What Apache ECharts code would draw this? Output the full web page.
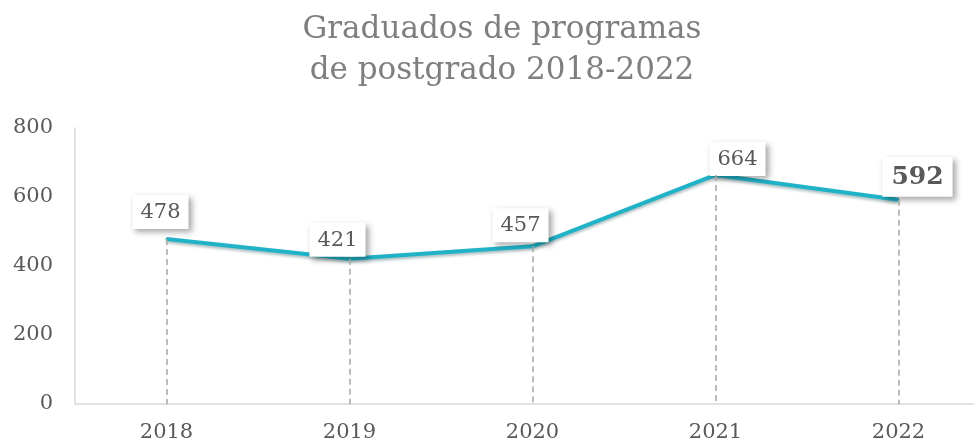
<!DOCTYPE html>
<html><head><meta charset="utf-8">
<script src="https://cdn.jsdelivr.net/npm/echarts@6/dist/echarts.min.js"></script>
<style>html,body{margin:0;padding:0;background:#fff}#c{width:974px;height:443px}</style>
</head><body><div id="c"></div>
<script>
const titleText = 'Graduados de programas\nde postgrado 2018-2022';
const years = ['2018', '2019', '2020', '2021', '2022'];
const graduates = [478, 421, 457, 664, 592];
const yTicks = [0, 200, 400, 600, 800];

const FONT = 'DejaVu Serif';
const labelOffsets = [[-6, -9], [-12, -1], [-12, -3], [22, 2], [19, -2]];

const chart = echarts.init(document.getElementById('c'));
const dataItems = graduates.map((v, i) => {
  const last = i === graduates.length - 1;
  return {
    value: v,
    label: {
      offset: labelOffsets[i],
      fontWeight: last ? 'bold' : 'normal',
      fontSize: last ? 25 : 21,
      padding: last ? [8, 9, 7, 9] : [7, 8, 6, 8]
    }
  };
});
chart.setOption({
  animation: false,
  title: {
    text: titleText, left: 497, textAlign: 'center', top: 4,
    textStyle: { fontFamily: FONT, fontWeight: 'normal', fontSize: 31, color: '#7f7f7f', lineHeight: 41 }
  },
  grid: { left: 75, top: 128, right: -16, bottom: 39, containLabel: false, outerBoundsMode: 'none' },
  xAxis: {
    type: 'category', data: years, boundaryGap: true,
    axisLine: { lineStyle: { color: '#d9d9d9', width: 1.5 } },
    axisTick: { show: false },
    axisLabel: { fontFamily: FONT, fontSize: 21, color: '#595959', margin: 18 }
  },
  yAxis: {
    type: 'value', min: yTicks[0], max: yTicks[yTicks.length - 1], interval: 200,
    axisLine: { show: true, lineStyle: { color: '#d9d9d9', width: 1.5 } },
    axisTick: { show: false },
    splitLine: { show: false },
    axisLabel: { fontFamily: FONT, fontSize: 21, color: '#595959', margin: 22 }
  },
  series: [{
    type: 'line', data: dataItems,
    symbol: 'circle', symbolSize: 2, showSymbol: true,
    itemStyle: { color: '#20b3c8', opacity: 1 },
    lineStyle: { color: '#20b3c8', width: 4, shadowColor: 'rgba(0,60,70,0.35)', shadowBlur: 3, shadowOffsetY: 2 },
    label: {
      show: true, position: 'top', distance: 0,
      fontFamily: FONT, color: '#595959',
      backgroundColor: '#fff',
      shadowColor: 'rgba(0,0,0,0.35)', shadowBlur: 6, shadowOffsetX: 3, shadowOffsetY: 3
    },
    markLine: {
      silent: true, symbol: 'none', label: { show: false },
      lineStyle: { color: '#a6a6a6', type: [6, 4], width: 1.5 },
      data: graduates.map((v, i) => [{ coord: [i, v] }, { coord: [i, 0] }])
    },
    z: 3
  }]
});
</script></body></html>
